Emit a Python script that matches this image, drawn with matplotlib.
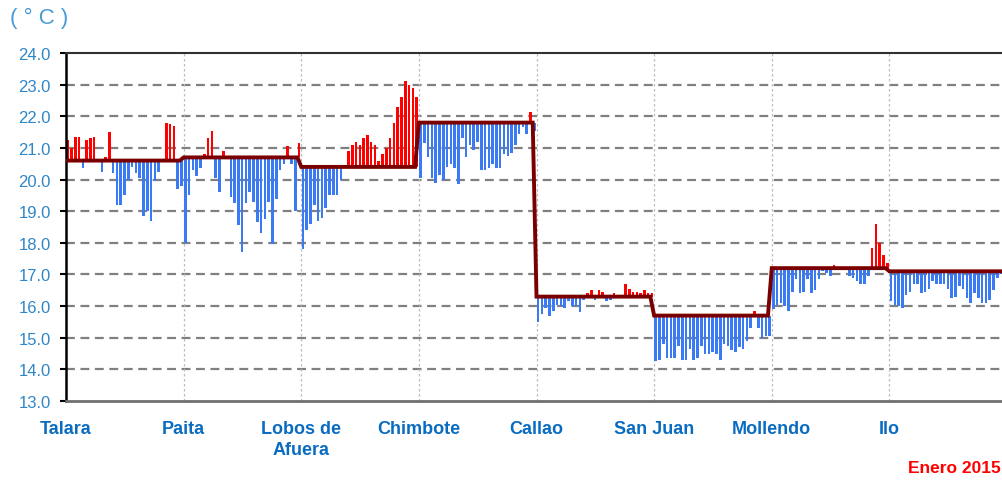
import numpy as np
import matplotlib
matplotlib.use("Agg")
import matplotlib.pyplot as plt

# estaciones y temperatura normal (climatologia) de enero
stations = ["Talara", "Paita", "Lobos de\nAfuera", "Chimbote", "Callao", "San Juan", "Mollendo", "Ilo"]
clim = [20.6, 20.7, 20.4, 21.8, 16.3, 15.7, 17.2, 17.1]

# TSM diaria, enero 2015 (31 dias por estacion)
talara = [21.25, 21.0, 21.35, 21.35, 20.35, 21.25, 21.3, 21.35, 20.55, 20.25, 20.7, 21.5, 20.2, 19.2, 19.2, 19.5,
          20.0, 20.4, 20.2, 20.05, 18.85, 19.0, 18.7, 19.95, 20.25, 20.6, 21.8, 21.75, 21.7, 19.7, 19.8]
paita = [18.0, 19.5, 20.3, 20.1, 20.35, 20.8, 21.3, 21.55, 20.05, 19.6, 20.9, 20.7, 19.45, 19.25, 18.55, 17.7,
         19.25, 19.6, 19.3, 18.65, 18.3, 18.75, 19.3, 17.95, 19.4, 20.3, 20.5, 21.05, 20.5, 19.0, 21.15]
lobos = [17.8, 18.4, 18.6, 19.2, 18.7, 18.8, 19.1, 19.5, 19.5, 19.5, 20.0, 20.45, 20.9, 21.1, 21.2, 21.1,
         21.3, 21.4, 21.2, 21.1, 20.6, 20.8, 21.0, 21.3, 21.8, 22.3, 22.6, 23.1, 23.0, 22.9, 22.6]
chimbote = [20.05, 21.15, 20.7, 20.05, 19.9, 20.15, 20.0, 20.4, 20.5, 20.35, 19.85, 21.3, 20.7, 21.1, 20.95, 21.2,
            20.3, 20.3, 20.35, 20.5, 20.35, 20.35, 20.8, 20.75, 20.85, 21.1, 21.45, 21.65, 21.45, 22.15, 21.55]
callao = [15.5, 15.75, 15.95, 15.7, 15.85, 16.05, 16.0, 15.95, 16.15, 16.0, 16.0, 15.8, 16.2, 16.4, 16.5, 16.2,
          16.5, 16.45, 16.15, 16.2, 16.4, 16.25, 16.35, 16.7, 16.55, 16.45, 16.45, 16.4, 16.5, 16.4, 16.4]
san_juan = [14.25, 14.3, 14.8, 14.35, 14.35, 14.35, 14.75, 14.3, 14.3, 14.65, 14.3, 14.35, 14.75, 14.5, 14.5, 14.55,
            14.5, 14.3, 14.8, 14.75, 14.6, 14.55, 14.7, 14.65, 14.9, 15.3, 15.85, 15.3, 15.0, 15.05, 15.05]
mollendo = [15.9, 16.05, 16.1, 16.0, 15.85, 16.45, 16.85, 16.4, 16.45, 16.85, 16.4, 16.5, 16.85, 17.1, 17.05, 16.95,
            17.3, 17.2, 17.2, 17.25, 16.95, 16.9, 16.8, 16.7, 16.7, 16.95, 17.85, 18.6, 18.0, 17.6, 17.35]
ilo = [16.15, 16.05, 16.0, 15.95, 16.35, 16.45, 16.7, 16.7, 16.4, 16.45, 16.55, 16.8, 16.7, 16.7, 16.7, 16.55,
       16.25, 16.3, 16.65, 16.55, 16.25, 16.1, 16.4, 16.25, 16.1, 16.1, 16.2, 16.5, 16.9, 17.0, 17.0]

daily = [talara, paita, lobos, chimbote, callao, san_juan, mollendo, ilo]
yticks = np.arange(13, 24.5, 1.0)

ndays = 31
values = np.concatenate(daily)
normal = np.repeat(clim, ndays)
x = np.arange(len(values)) / ndays
anom = values - normal
colors = np.where(anom >= 0, "#FF0000", "#3A7AF5")

fam = ["Liberation Sans", "DejaVu Sans"]

fig = plt.figure(figsize=(10.03, 4.81), dpi=100)
ax = fig.add_axes([0.0658, 0.1642, 0.9382, 0.7235])

ax.bar(x + 0.014, anom, bottom=normal, width=0.68 / ndays, color=colors, zorder=2)
ax.plot(x, normal, color="#7A0000", lw=2.8, zorder=3, solid_joinstyle="miter")

ax.set_xlim(0, 8)
ax.set_ylim(13, 24)
ax.set_yticks(yticks)
ax.set_yticklabels(["%.1f" % v for v in yticks], family=fam, fontsize=12, color="#2E86C8")
ax.set_xticks(np.arange(len(stations)))
ax.set_xticklabels(stations, family=fam, fontsize=13, fontweight="bold", color="#0A6CC0",
                   linespacing=1.3, va="top")
ax.tick_params(axis="y", direction="out", length=4, width=1.5, color="black", pad=7)
ax.tick_params(axis="x", length=0, pad=14)

for v in yticks[1:-1]:
    ax.axhline(v, color="#808080", lw=1.6, ls=(0, (4, 2.5)), zorder=1)
for k in range(1, len(stations)):
    ax.axvline(k, color="#BDBDBD", lw=0.9, ls=(0, (2, 2)), zorder=1)

ax.spines["left"].set_color("black")
ax.spines["left"].set_linewidth(1.8)
ax.spines["bottom"].set_color("#707070")
ax.spines["bottom"].set_linewidth(2)
ax.spines["top"].set_color("#303030")
ax.spines["top"].set_linewidth(1.5)
ax.spines["right"].set_visible(False)

fig.text(0.010, 0.962, "( ° C )", fontsize=16, color="#4A9AD4", family=fam,
         va="center", ha="left")
fig.text(0.998, 0.027, "Enero 2015", fontsize=12.5, fontweight="bold", color="#FF0000", family=fam,
         va="center", ha="right")

fig.savefig("out.png", dpi=100)
